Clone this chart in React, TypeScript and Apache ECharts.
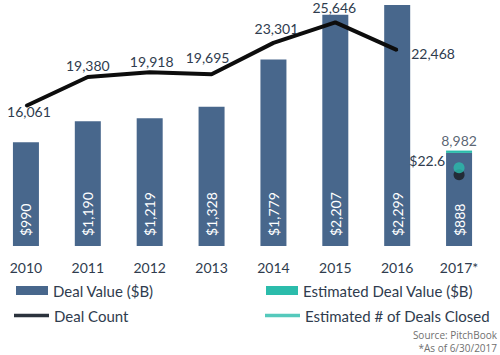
import React, { useEffect, useRef } from 'react';
import * as echarts from 'echarts';

const years = ['2010', '2011', '2012', '2013', '2014', '2015', '2016', '2017*'];
const dealValue = [990, 1190, 1219, 1328, 1779, 2207, 2299, 888];
const estDealValue = [null, null, null, null, null, null, null, 22.6];
const dealCount = [16061, 19380, 19918, 19695, 23301, 25646, 22468, null];
const dealCount2017 = [null, null, null, null, null, null, null, 8180];
const estDealsClosed = [null, null, null, null, null, null, null, 8982];

const FONT = 'Lato';
const TEXT = '#2f3c4e';
const BAR = '#48678c';
const TEAL = '#2bbcab';

const countLabelCfg: any[] = [
  { position: 'bottom', distance: 0, offset: [3, -2] },
  { position: 'top', distance: 4, offset: [0, 0] },
  { position: 'top', distance: 3, offset: [2, 0] },
  { position: 'top', distance: 9, offset: [-4, 0] },
  { position: 'top', distance: 6, offset: [3, 0] },
  { position: 'top', distance: 7, offset: [-1, 0] },
  { position: 'right', distance: 13, offset: [0, 3] },
  { position: 'top', distance: 5, offset: [0, 0] },
];

const fmt = (v: number) => v.toLocaleString('en-US');

export default function App() {
  const ref = useRef<HTMLDivElement>(null);
  useEffect(() => {
    if (!ref.current) return;
    const chart = echarts.init(ref.current, null, { renderer: 'svg' });
    const legendText = { color: TEXT, fontSize: 15, fontFamily: FONT };
    chart.setOption({
      animation: false,
      backgroundColor: '#ffffff',
      grid: { left: 0, right: 10, top: 0, bottom: 109 },
      xAxis: {
        type: 'category',
        data: years,
        axisLine: { show: false },
        axisTick: { show: false },
        axisLabel: { color: TEXT, fontSize: 14, fontFamily: FONT, margin: 14 },
      },
      yAxis: [
        { type: 'value', min: 0, max: 2347, show: false, splitLine: { show: false } },
        { type: 'value', min: 0, max: 28216, show: false, splitLine: { show: false } },
      ],
      legend: [
        {
          left: 16, top: 278, data: ['Deal Value ($B)'], icon: 'rect', itemWidth: 32, itemHeight: 9,
          selectedMode: false, textStyle: legendText,
        },
        {
          left: 266, top: 278, data: ['Estimated Deal Value ($B)'], icon: 'rect', itemWidth: 32, itemHeight: 9,
          selectedMode: false, textStyle: legendText,
        },
        {
          left: 14, top: 303, data: [{ name: 'Deal Count', itemStyle: { color: '#2b333d' } }], icon: 'rect',
          itemWidth: 35, itemHeight: 3.5, selectedMode: false, textStyle: legendText,
        },
        {
          left: 265, top: 303, data: ['Estimated # of Deals Closed'], icon: 'rect', itemWidth: 35, itemHeight: 3.5,
          selectedMode: false, textStyle: legendText,
        },
      ],
      graphic: [
        {
          type: 'text', right: 3, top: 330,
          style: { text: 'Source: PitchBook', fontSize: 10, fontFamily: 'Open Sans', fill: '#707070' },
        },
        {
          type: 'text', right: 3, top: 343,
          style: { text: '*As of 6/30/2017', fontSize: 10, fontFamily: 'Open Sans', fill: '#707070' },
        },
      ],
      series: [
        {
          name: 'Deal Value ($B)',
          type: 'bar',
          stack: 'v',
          barWidth: 26,
          data: dealValue,
          itemStyle: { color: BAR },
          label: {
            show: true,
            position: 'insideBottom',
            rotate: 90,
            align: 'left',
            verticalAlign: 'middle',
            distance: 10,
            color: '#ffffff',
            fontSize: 14,
            fontFamily: FONT,
            formatter: (p: any) => '$' + fmt(p.value),
          },
        },
        {
          name: 'Estimated Deal Value ($B)',
          type: 'bar',
          stack: 'v',
          barWidth: 26,
          data: estDealValue,
          itemStyle: { color: TEAL },
          label: {
            show: true,
            position: 'left',
            distance: 1,
            offset: [0, 9],
            color: TEXT,
            fontSize: 14,
            fontFamily: FONT,
            formatter: (p: any) => '$' + p.value,
          },
        },
        {
          name: 'Deal Count',
          type: 'line',
          yAxisIndex: 1,
          symbol: 'circle',
          symbolSize: 2,
          lineStyle: { color: '#0d0d0d', width: 4 },
          itemStyle: { color: '#0d0d0d' },
          data: dealCount.map((v, i) => ({
            value: v,
            label: { show: true, ...countLabelCfg[i] },
          })),
          label: {
            show: true,
            color: TEXT,
            fontSize: 14,
            fontFamily: FONT,
            formatter: (p: any) => fmt(p.value),
          },
        },
        {
          name: 'Deal Count 2017',
          type: 'scatter',
          yAxisIndex: 1,
          symbolSize: 11,
          itemStyle: { color: '#1a1d22' },
          data: dealCount2017,
        },
        {
          name: 'Estimated # of Deals Closed',
          type: 'scatter',
          yAxisIndex: 1,
          symbolSize: 11,
          itemStyle: { color: TEAL },
          data: estDealsClosed,
          label: {
            show: true,
            position: 'top',
            offset: [0, -10],
            color: TEXT,
            fontSize: 14,
            fontFamily: FONT,
            formatter: (p: any) => fmt(p.value),
          },
        },
      ],
    });
    return () => chart.dispose();
  }, []);
  return (
    <div
      ref={ref}
      style={{ position: 'absolute', left: -5, top: 0, width: 505, height: 355, background: '#fff' }}
    />
  );
}
